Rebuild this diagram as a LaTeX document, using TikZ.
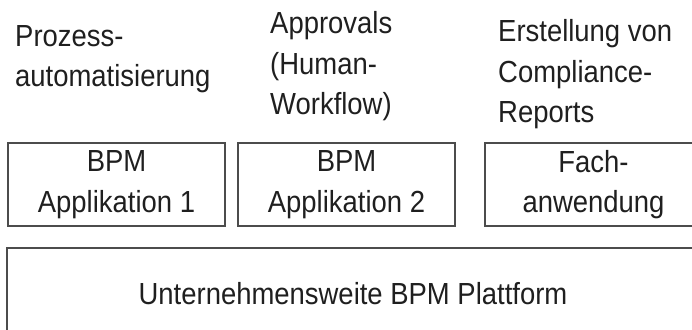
\documentclass[tikz,border=0pt]{standalone}
\usepackage{fontspec}
\setmainfont{Liberation Sans}[FakeStretch=0.9]

\begin{document}
\begin{tikzpicture}[x=1pt,y=1pt]
\tikzset{every node/.style={font=\fontsize{30.5}{40.5}\selectfont,text=black!88},
  appbox/.style={draw=black!70,line width=1.3pt,minimum width=217pt,minimum height=83pt,align=center,inner sep=0pt},
  usecase/.style={align=left,anchor=base west,inner sep=0pt}}
\useasboundingbox (0,0) rectangle (692,329);
\clip (0,0) rectangle (692,329);

\node[usecase] (prozess) at (15,242) {Prozess-\\automatisierung};
\node[usecase] (approvals) at (270,214) {Approvals\\(Human-\\Workflow)};
\node[usecase] (compliance) at (498,206) {Erstellung von\\Compliance-\\Reports};

\node[appbox] (app1) at (116.5,144.5) {BPM\\Applikation 1};
\node[appbox] (app2) at (346.5,144.5) {BPM\\Applikation 2};
\node[appbox] (fach) at (593.5,144.5) {Fach-\\anwendung};

\node[appbox,minimum width=692pt,minimum height=92pt] (plattform) at (353,35) {Unternehmensweite BPM Plattform};

\end{tikzpicture}
\end{document}
